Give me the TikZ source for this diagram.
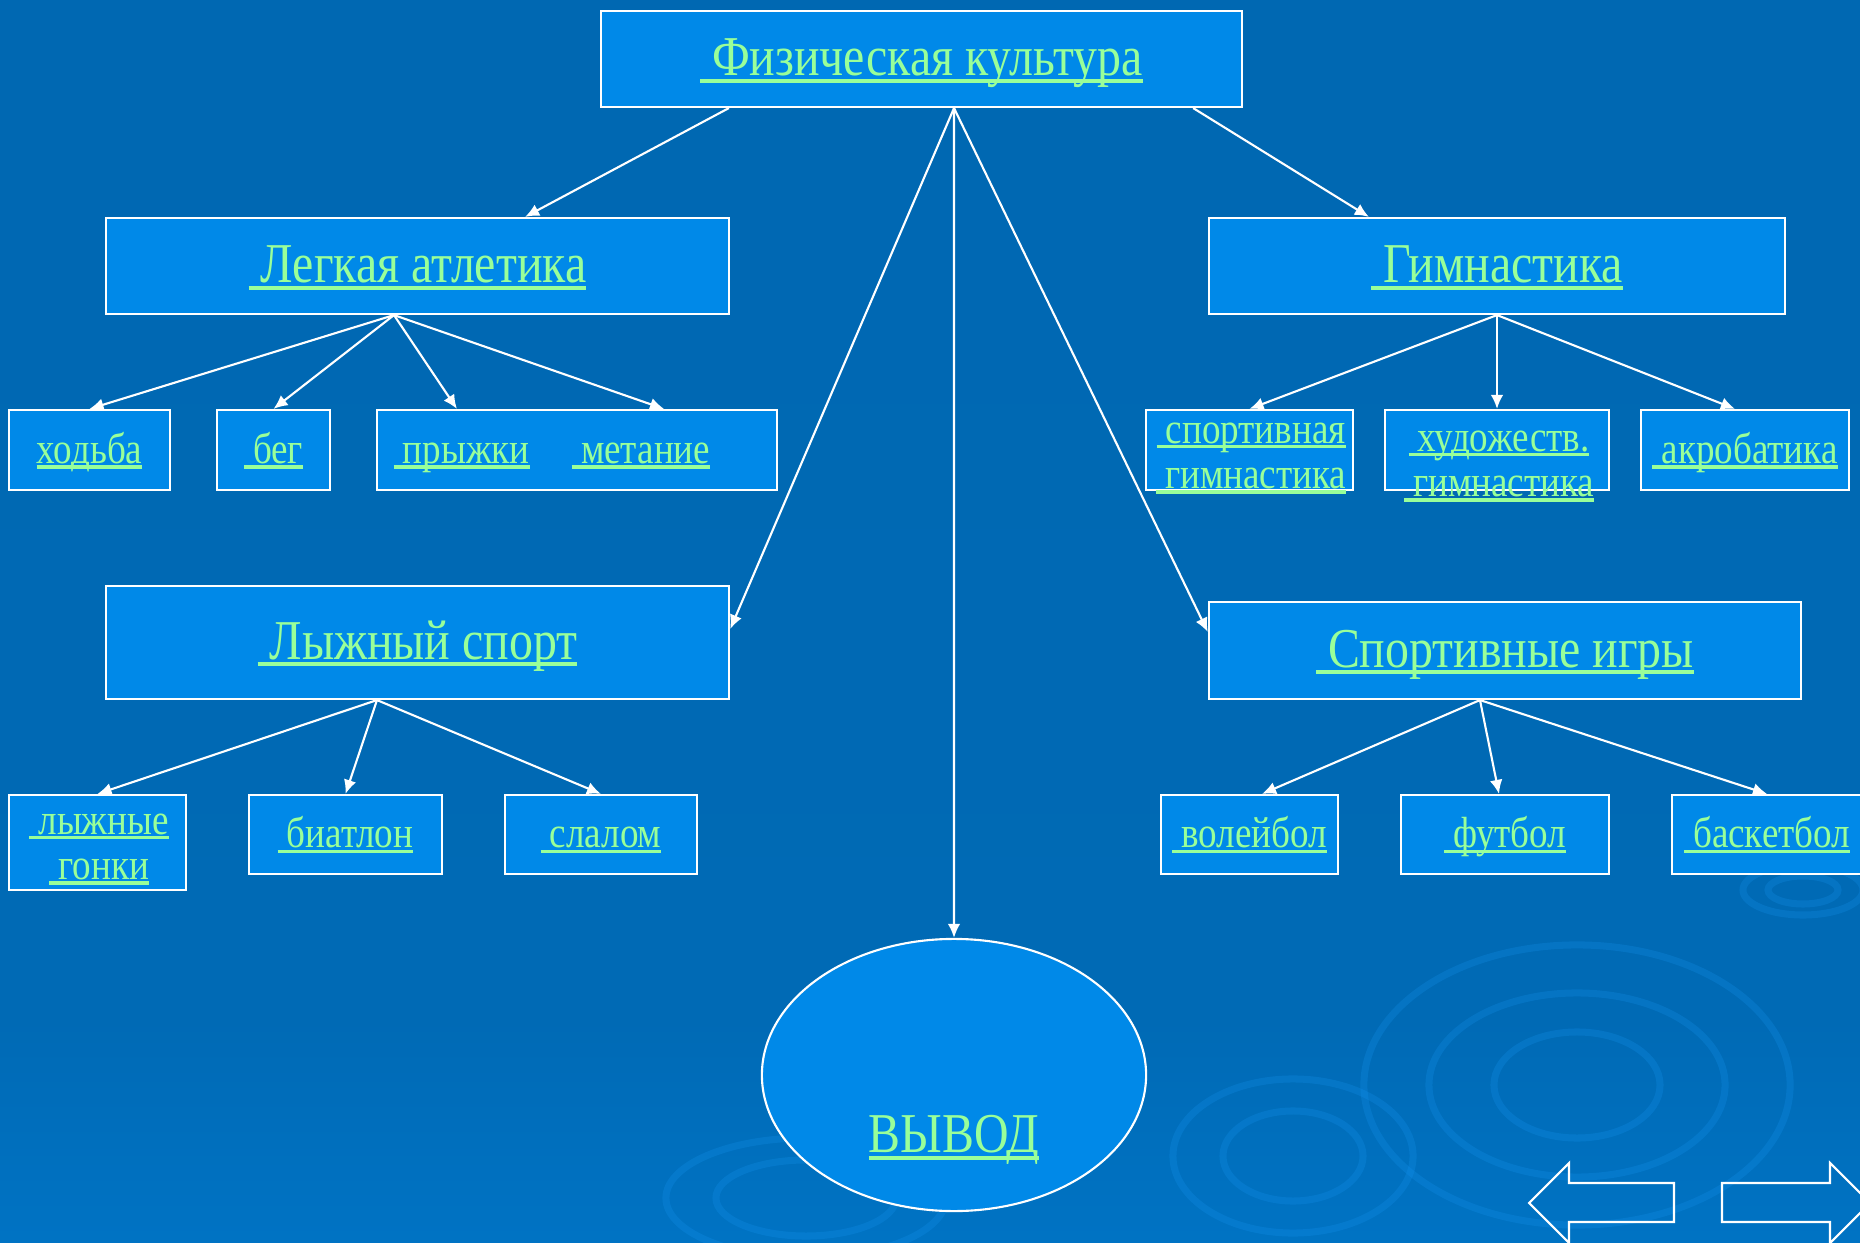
\documentclass[tikz,border=0pt]{standalone}
\usepackage{fontspec}
\setmainfont{Liberation Serif}[FakeStretch=0.85]
\usetikzlibrary{shapes.geometric,arrows.meta}
\definecolor{bgtop}{RGB}{0,102,176}
\definecolor{bgmid}{RGB}{0,106,181}
\definecolor{bglow}{RGB}{0,125,212}
\definecolor{bgbot}{RGB}{0,137,229}
\definecolor{boxblue}{RGB}{0,137,232}
\definecolor{lgreen}{RGB}{153,255,153}
\definecolor{ripple}{RGB}{20,148,240}
\pgfdeclareverticalshading{bgshade}{100bp}{color(0bp)=(bgbot); color(15bp)=(bglow); color(34bp)=(bgmid); color(100bp)=(bgtop)}
% underlined label, with a strut so that all boxes share one baseline
\newcommand\ulk[1]{\setbox0\hbox{#1}\rlap{\rule[-0.125em]{\wd0}{0.07em}}\box0\rule[-0.3em]{0pt}{1.2em}}
% underlined label for labels of two lines
\newcommand\uln[1]{\setbox0\hbox{#1}\rlap{\rule[-0.125em]{\wd0}{0.07em}}\box0}

\begin{document}
\begin{tikzpicture}[x=0.01cm,y=-0.01cm,
    box/.style={draw=white,line width=0.6pt,fill=boxblue,inner sep=0pt,
      text=lgreen,align=center,font=\fontsize{12.4}{12.8}\selectfont},
    bigbox/.style={box,minimum height=0.96cm,font=\fontsize{16}{18}\selectfont},
    leaf/.style={box,minimum height=0.8cm},
    lbl/.style={text=lgreen,inner sep=0pt,align=center,font=\fontsize{12.4}{12.8}\selectfont},
    con/.style={->,>={Latex[length=4pt,width=3.6pt]},draw=white,line width=0.6pt},
    ring/.style={draw=ripple,line width=2pt,opacity=0.25}]
                \useasboundingbox (0,0) rectangle (1860,1243);
                \clip (0,0) rectangle (1860,1243);
                \fill[shading=bgshade] (0,0) rectangle (1860,1243);
                % ripples in the backdrop
                \draw[ring] (1577,1085) ellipse [x radius=2.13cm,y radius=1.4cm];
                \draw[ring] (1577,1085) ellipse [x radius=1.48cm,y radius=0.92cm];
                \draw[ring] (1577,1085) ellipse [x radius=0.83cm,y radius=0.53cm];
                \draw[ring] (1293,1156) ellipse [x radius=1.2cm,y radius=0.77cm];
                \draw[ring] (1293,1156) ellipse [x radius=0.7cm,y radius=0.45cm];
                \draw[ring] (806,1198) ellipse [x radius=1.4cm,y radius=0.6cm];
                \draw[ring] (806,1198) ellipse [x radius=0.9cm,y radius=0.38cm];
                \draw[ring] (1803,890) ellipse [x radius=0.6cm,y radius=0.25cm];
                \draw[ring] (1803,890) ellipse [x radius=0.35cm,y radius=0.14cm];

                \node[bigbox,minimum width=6.41cm] (phys) at (921.5,59) {\ulk{\ Физическая культура}};
                \node[bigbox,minimum width=6.23cm] (lat) at (417.5,266) {\ulk{\ Легкая атлетика}};
                \node[bigbox,minimum width=5.76cm] (gym) at (1497,266) {\ulk{\ Гимнастика}};
                \node[bigbox,minimum width=6.23cm,minimum height=1.13cm] (ski) at (417.5,642.5) {\ulk{\ Лыжный спорт}};
                \node[bigbox,minimum width=5.92cm,minimum height=0.97cm] (games) at (1505,650.5) {\ulk{\ Спортивные игры}};

                \node[leaf,minimum width=1.61cm] (walk) at (89.5,450) {\ulk{ходьба}};
                \node[leaf,minimum width=1.13cm] (run) at (273.5,450) {\ulk{\ бег}};
                \node[leaf,minimum width=4cm] (jump) at (577,450) {};
                \node[lbl,anchor=west] (jumpt) at ([xshift=0.17cm]jump.west) {\ulk{\ прыжки}\hspace{12pt}\ulk{\ метание}};
                \node[leaf,minimum width=2.07cm] (sgym) at (1249.5,450) {};
                \node[lbl] (sgymt) at (1251,458) {\uln{\ спортивная}\\\uln{\ гимнастика}};
                \node[leaf,minimum width=2.24cm] (agym) at (1497,450) {};
                \node[lbl] (agymt) at (1499,466) {\uln{\ художеств.}\\\uln{\ гимнастика}};
                \node[leaf,minimum width=2.08cm] (acro) at (1745,450) {\ulk{\ акробатика}};

                \node[leaf,minimum width=1.77cm,minimum height=0.95cm] (race) at (97.5,842.5) {};
                \node[lbl] (racet) at (99,849) {\uln{\ лыжные}\\\uln{\ гонки}};
                \node[leaf,minimum width=1.93cm,minimum height=0.79cm] (biat) at (345.5,834.5) {\ulk{\ биатлон}};
                \node[leaf,minimum width=1.92cm,minimum height=0.79cm] (slalom) at (601,834.5) {\ulk{\ слалом}};
                \node[leaf,minimum width=1.77cm,minimum height=0.79cm] (volley) at (1249.5,834.5) {\ulk{\ волейбол}};
                \node[leaf,minimum width=2.08cm,minimum height=0.79cm] (foot) at (1505,834.5) {\ulk{\ футбол}};
                \node[leaf,minimum width=1.9cm,minimum height=0.79cm] (basket) at (1767,834.5) {\ulk{\ баскетбол}};

                \node[draw=white,line width=0.6pt,fill=boxblue,ellipse,minimum width=3.84cm,minimum height=2.72cm,inner sep=0pt] (vyvod) at (954,1075) {};
                \node[lbl,font=\fontsize{16}{18}\selectfont] (vyvodt) at (954,1140) {\uln{ВЫВОД}};

                \draw[con] ([xshift=-1.925cm]phys.south) -- ([xshift=1.075cm]lat.north);
                \draw[con] ([xshift=2.715cm]phys.south) -- ([xshift=-1.28cm]gym.north);
                \draw[con] ([xshift=0.325cm]phys.south) -- ([yshift=0.135cm]ski.east);
                \draw[con] ([xshift=0.325cm]phys.south) -- (vyvod.north);
                \draw[con] ([xshift=0.325cm]phys.south) -- ([yshift=0.185cm]games.west);

                \draw[con] ([xshift=-0.235cm]lat.south) -- (walk.north);
                \draw[con] ([xshift=-0.235cm]lat.south) -- (run.north);
                \draw[con] ([xshift=-0.235cm]lat.south) -- ([xshift=-1.2cm]jump.north);
                \draw[con] ([xshift=-0.235cm]lat.south) -- ([xshift=0.87cm]jump.north);

                \draw[con] (gym.south) -- (sgym.north);
                \draw[con] (gym.south) -- (agym.north);
                \draw[con] (gym.south) -- ([xshift=-0.1cm]acro.north);

                \draw[con] ([xshift=-0.405cm]ski.south) -- (race.north);
                \draw[con] ([xshift=-0.405cm]ski.south) -- (biat.north);
                \draw[con] ([xshift=-0.405cm]ski.south) -- (slalom.north);

                \draw[con] ([xshift=-0.25cm]games.south) -- ([xshift=0.125cm]volley.north);
                \draw[con] ([xshift=-0.25cm]games.south) -- ([xshift=-0.06cm]foot.north);
                \draw[con] ([xshift=-0.25cm]games.south) -- (basket.north);

                % navigation arrows
                \draw[white,line width=0.6pt] (1529,1203) -- (1569,1163) -- (1569,1183) -- (1674,1183)
                    -- (1674,1222) -- (1569,1222) -- (1569,1243) -- cycle;
                \draw[white,line width=0.6pt] (1870,1203) -- (1830,1163) -- (1830,1183) -- (1722,1183)
                    -- (1722,1222) -- (1830,1222) -- (1830,1243) -- cycle;
            \end{tikzpicture}
\end{document}
